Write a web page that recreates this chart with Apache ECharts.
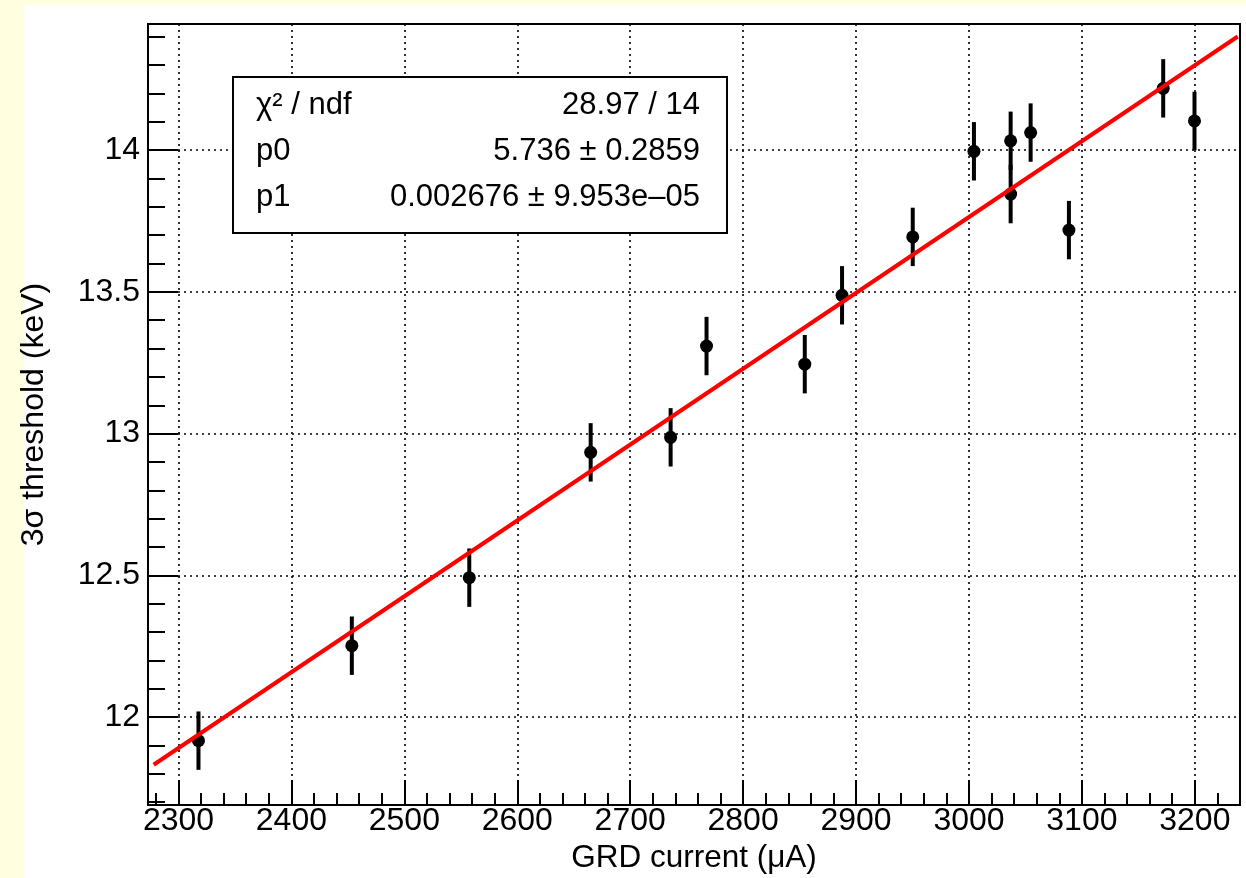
<!DOCTYPE html>
<html>
<head>
<meta charset="utf-8">
<script src="https://cdn.jsdelivr.net/npm/echarts@6/dist/echarts.min.js"></script>
<style>
  html, body { margin: 0; padding: 0; background: #ffffe0; }
  #paper { position: absolute; left: 24px; top: 5px; width: 1222px; height: 873px; background: #ffffff; }
  #chart { position: absolute; left: 0; top: 0; width: 1246px; height: 878px; }
</style>
</head>
<body>
<div id="paper"></div>
<div id="chart"></div>
<script>
// ---- data ----
const grdCurrent = [2317.7, 2453.5, 2557.5, 2665.0, 2735.8, 2767.6, 2854.6, 2887.6,
                    2950.2, 3004.4, 3036.9, 3036.9, 3054.6, 3088.5, 3172.0, 3199.7];
const threshold  = [11.917, 12.252, 12.492, 12.934, 12.987, 13.309, 13.245, 13.488,
                    13.694, 13.996, 14.033, 13.845, 14.062, 13.718, 14.218, 14.103];
const thresholdErr = [0.103, 0.103, 0.103, 0.103, 0.103, 0.103, 0.103, 0.103,
                      0.103, 0.103, 0.103, 0.103, 0.103, 0.103, 0.103, 0.103];
const fitLine = [[2278, 11.832], [3238, 14.401]];
const statsLabels = ['χ² / ndf', 'p0', 'p1'];
const statsValues = ['28.97 / 14', '5.736 ± 0.2859', '0.002676 ± 9.953e–05'];
const xTickLabels = [2300, 2400, 2500, 2600, 2700, 2800, 2900, 3000, 3100, 3200];
const yTickLabels = [12, 12.5, 13, 13.5, 14];
const xRange = [2273, 3240];
const yRange = [11.69, 14.445];

// minor tick positions (axis decoration, every 20 µA and 0.1 keV)
const xMinor = [];
for (let v = 2280; v <= 3240; v += 20) xMinor.push(v);
const yMinor = [];
for (let k = 117; k <= 144; k++) yMinor.push(k / 10);

const FONT = 'Liberation Sans, Arial, Helvetica, sans-serif';

const points = grdCurrent.map((x, i) => [x, threshold[i]]);
const bars = grdCurrent.map((x, i) => [x, threshold[i] - thresholdErr[i], threshold[i] + thresholdErr[i]]);

const chart = echarts.init(document.getElementById('chart'), null, { renderer: 'canvas' });

const statsGraphics = [{
  type: 'rect', z: 100,
  shape: { x: 233, y: 77, width: 494, height: 156 },
  style: { fill: '#ffffff', stroke: '#000000', lineWidth: 2 }
}];
const rowY = [105, 151, 197];
statsLabels.forEach((t, i) => {
  statsGraphics.push({ type: 'text', z: 101, x: 256, y: rowY[i],
    style: { text: t, font: '31px ' + FONT, fill: '#000', textAlign: 'left', textVerticalAlign: 'middle' } });
  statsGraphics.push({ type: 'text', z: 101, x: 700, y: rowY[i],
    style: { text: statsValues[i], font: '31px ' + FONT, fill: '#000', textAlign: 'right', textVerticalAlign: 'middle' } });
});

const option = {
  animation: false,
  backgroundColor: 'transparent',
  grid: { left: 148, top: 24, right: 6, bottom: 73, containLabel: false, outerBoundsMode: 'none',
          show: true, borderColor: '#000', borderWidth: 2, backgroundColor: 'transparent' },
  xAxis: [{
    type: 'value', min: xRange[0], max: xRange[1], position: 'bottom',
    axisLine: { show: true, onZero: false, lineStyle: { color: '#000', width: 2 } },
    axisTick: { show: true, inside: true, length: 25, customValues: xTickLabels, lineStyle: { color: '#000', width: 2 } },
    axisLabel: { show: true, color: '#000', fontSize: 32, fontFamily: FONT, margin: 0,
                 customValues: xTickLabels, formatter: v => String(v) },
    splitLine: { show: true, lineStyle: { color: '#000', width: 1.6, type: [2, 4] } },
    name: 'GRD current (μA)', nameLocation: 'middle', nameGap: 30,
    nameTextStyle: { color: '#000', fontSize: 31.5, fontFamily: FONT }
  }, {
    type: 'value', min: xRange[0], max: xRange[1], position: 'bottom',
    axisLine: { show: false, onZero: false },
    axisTick: { show: true, inside: true, length: 12, customValues: xMinor, lineStyle: { color: '#000', width: 2 } },
    axisLabel: { show: false, customValues: xMinor }, splitLine: { show: false }
  }],
  yAxis: [{
    type: 'value', min: yRange[0], max: yRange[1], position: 'left',
    axisLine: { show: true, onZero: false, lineStyle: { color: '#000', width: 2 } },
    axisTick: { show: true, inside: true, length: 30, customValues: yTickLabels, lineStyle: { color: '#000', width: 2 } },
    axisLabel: { show: true, color: '#000', fontSize: 32, fontFamily: FONT, margin: 8,
                 customValues: yTickLabels, formatter: v => String(v) },
    splitLine: { show: true, lineStyle: { color: '#000', width: 1.6, type: [2, 4] } },
    name: '3σ threshold (keV)', nameLocation: 'middle', nameGap: 98,
    nameTextStyle: { color: '#000', fontSize: 32, fontFamily: FONT }
  }, {
    type: 'value', min: yRange[0], max: yRange[1], position: 'left',
    axisLine: { show: false, onZero: false },
    axisTick: { show: true, inside: true, length: 17, customValues: yMinor, lineStyle: { color: '#000', width: 2 } },
    axisLabel: { show: false, customValues: yMinor }, splitLine: { show: false }
  }],
  series: [{
    type: 'custom', xAxisIndex: 0, yAxisIndex: 0, z: 3,
    data: bars,
    renderItem: function (params, api) {
      const lo = api.coord([api.value(0), api.value(1)]);
      const hi = api.coord([api.value(0), api.value(2)]);
      return { type: 'line', shape: { x1: lo[0], y1: lo[1], x2: hi[0], y2: hi[1] },
               style: { stroke: '#000', lineWidth: 4 } };
    }
  }, {
    type: 'scatter', xAxisIndex: 0, yAxisIndex: 0, z: 4,
    data: points, symbol: 'circle', symbolSize: 13,
    itemStyle: { color: '#000', opacity: 1 }
  }, {
    type: 'line', xAxisIndex: 0, yAxisIndex: 0, z: 5,
    data: fitLine, showSymbol: false, symbol: 'none',
    lineStyle: { color: '#ff0000', width: 4 }
  }],
  graphic: statsGraphics
};
chart.setOption(option);
</script>
</body>
</html>
